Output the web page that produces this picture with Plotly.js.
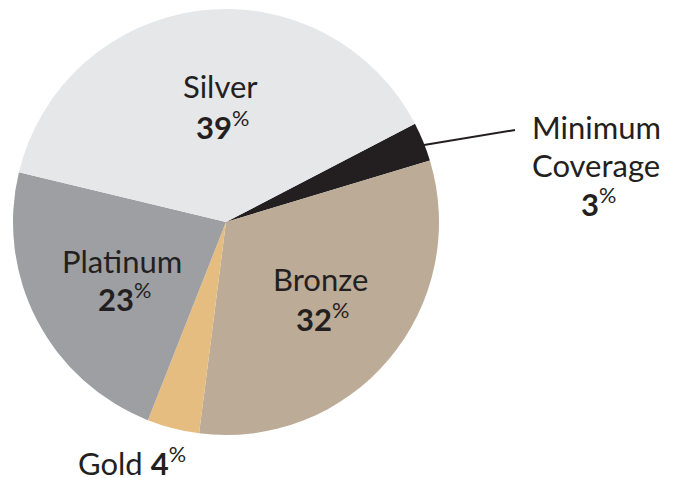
<!DOCTYPE html>
<html>
<head>
<meta charset="utf-8">
<script src="https://cdn.plot.ly/plotly-3.0.1.min.js"></script>
<style>html,body{margin:0;padding:0;background:#fff;}#chart{width:681px;height:478px;}</style>
</head>
<body>
<div id="chart"></div>
<script>
const categories = ["Minimum Coverage", "Bronze", "Gold", "Platinum", "Silver"];
const values = [3, 32, 4, 23, 39];
const colors = ["#231f20", "#bcab96", "#e6bd80", "#9d9fa3", "#e6e7e8"];

const W = 681, H = 478;
const M = {l: 13, r: 242, t: 9, b: 43};
const PW = W - M.l - M.r, PH = H - M.t - M.b;
const px = x => (x - M.l) / PW;
const py = y => 1 - (y - M.t) / PH;

const FONT = "Lato, Open Sans, sans-serif";
const FS = 31;
// place a single text line by its baseline
function line(text, x, base) {
  return {text: text, xref: 'paper', yref: 'paper', x: px(x), y: py(base - 0.34 * FS),
    xanchor: 'center', yanchor: 'middle', showarrow: false, align: 'center',
    font: {family: FONT, size: FS, color: '#231f20'}};
}
const pct = v => '<b>' + v + '</b><sup>%</sup>';

const data = [{
  type: 'pie', labels: categories, values: values, sort: false,
  direction: 'clockwise', rotation: 62.5,
  marker: {colors: colors, line: {width: 0}},
  textinfo: 'none', hoverinfo: 'label+percent', showlegend: false
}];

const layout = {
  width: W, height: H, margin: M,
  paper_bgcolor: '#fff', plot_bgcolor: '#fff',
  annotations: [
    line(categories[4], 220, 97), line(pct(values[4]), 222, 136),
    line(categories[3], 122, 272), line(pct(values[3]), 124, 308),
    line(categories[1], 320, 290), line(pct(values[1]), 322, 328),
    line('Minimum', 596, 138), line('Coverage', 596, 176), line(pct(values[0]), 598, 213),
    line(categories[2] + ' ' + pct(values[2]), 132, 472)
  ],
  shapes: [{type: 'line', xref: 'paper', yref: 'paper',
    x0: px(424), y0: py(145), x1: px(515), y1: py(130),
    line: {color: '#231f20', width: 2}}]
};
Plotly.newPlot('chart', data, layout, {displayModeBar: false, staticPlot: true});
</script>
</body>
</html>
